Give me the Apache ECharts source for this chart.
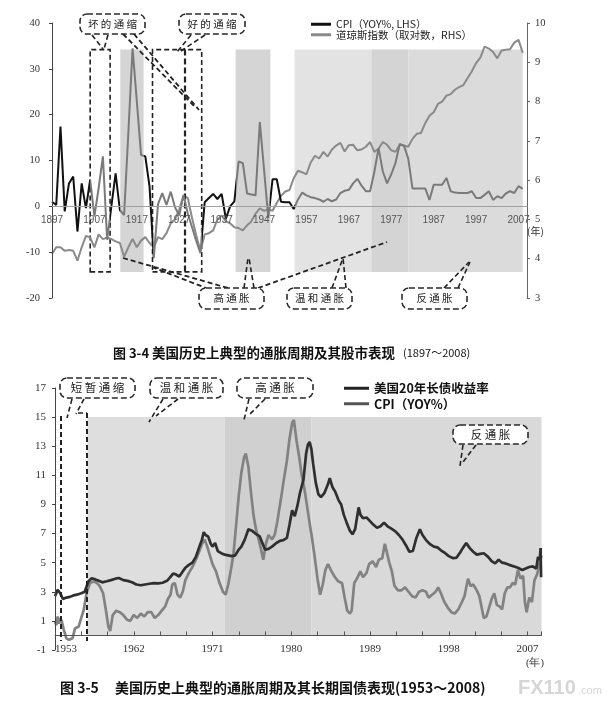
<!DOCTYPE html>
<html><head><meta charset="utf-8">
<script src="https://cdn.jsdelivr.net/npm/echarts@6/dist/echarts.min.js"></script>
<style>html,body{margin:0;padding:0;background:#fff}#c{width:614px;height:702px}</style>
</head><body><div id="c"></div>
<script>
// ---------- Figure 3-4 : annual data ----------
const cpiYears = [1897,1898,1899,1900,1901,1902,1903,1904,1905,1906,1907,1908,1909,1910,1911,1912,1913,1914,1915,1916,1917,1918,1919,1920,1921,1922,1923,1924,1925,1926,1927,1928,1929,1930,1931,1932,1933,1934,1935,1936,1937,1938,1939,1940,1941,1942,1943,1944,1945,1946,1947,1948,1949,1950,1951,1952,1953,1954,1955,1956,1957,1958,1959,1960,1961,1962,1963,1964,1965,1966,1967,1968,1969,1970,1971,1972,1973,1974,1975,1976,1977,1978,1979,1980,1981,1982,1983,1984,1985,1986,1987,1988,1989,1990,1991,1992,1993,1994,1995,1996,1997,1998,1999,2000,2001,2002,2003,2004,2005,2006,2007,2008];
const cpiValues = [1.0,0.3,17.4,-1.1,5.0,6.5,-5.5,5.0,-0.4,5.8,-2.2,4.0,10.9,-7.3,0.0,7.2,-0.8,-1.9,16.0,34.5,22.9,11.2,10.9,4.3,-11.3,0.5,2.9,0.3,3.2,-0.2,-2.0,2.5,-1.5,-4.5,-7.5,-10.2,0.9,1.8,2.7,1.6,2.7,-2.7,0.0,1.1,9.8,9.4,2.8,2.6,2.4,18.4,8.0,-2.5,5.9,5.9,1.0,0.9,0.9,-0.6,1.5,3.0,2.4,2.0,1.8,1.5,1.0,1.6,1.1,1.5,2.9,3.4,3.6,5.0,6.0,4.5,3.3,3.3,7.5,12.7,7.6,5.0,7.0,9.5,13.6,13.2,10.4,3.9,3.9,3.9,3.9,1.4,4.7,4.7,4.7,6.2,3.3,3.0,2.9,2.9,2.9,3.3,1.8,1.8,2.5,3.3,1.4,2.2,1.8,2.8,3.3,2.9,4.4,3.8];
const dowLogValues = [4.12,4.29,4.29,4.2,4.22,4.2,3.95,4.29,4.58,4.54,4.29,4.62,4.5,4.54,4.5,4.44,4.4,4.05,4.29,4.5,4.29,4.46,4.55,4.4,4.29,4.55,4.5,4.65,4.9,5.0,5.25,5.6,5.55,5.05,4.6,4.2,4.62,4.65,4.72,5.0,5.1,4.95,4.9,4.8,4.78,4.72,4.85,4.95,5.15,5.28,5.22,5.25,5.22,5.42,5.6,5.71,5.75,6.05,6.24,6.2,6.15,6.45,6.62,6.55,6.72,6.6,6.78,6.88,6.95,6.73,6.89,6.9,6.76,6.78,6.85,6.97,6.72,6.8,6.97,6.9,6.76,6.72,6.9,6.88,6.85,7.05,7.18,7.2,7.45,7.64,7.73,7.94,8.0,8.15,8.19,8.3,8.37,8.42,8.6,8.77,8.98,9.12,9.4,9.35,9.26,9.1,9.3,9.32,9.33,9.5,9.57,9.24];
const topTickYears = [1897,2009];
// periods (years) of the shaded bands and dashed boxes
const topShadeSpans = [[1913.1,1918.6],[1940.3,1948.5],[1954.2,1972.3],[1972.3,1981.0],[1981.0,2008.0]];
const topBoxSpans = [[1906.0,1910.7],[1920.7,1932.3]];
const topBoxDivider = 1928.4;
const topShadeRange = [-14.3,34.2];

// ---------- Figure 3-5 : monthly-ish data ----------
const bondTimes = [1953.0,1953.3,1953.6,1953.9,1954.3,1954.7,1955.1,1955.5,1956.0,1956.4,1956.8,1957.2,1957.6,1958.0,1958.4,1958.9,1959.4,1959.9,1960.3,1960.8,1961.3,1961.8,1962.3,1962.8,1963.3,1963.8,1964.3,1964.8,1965.3,1965.8,1966.1,1966.5,1966.8,1967.2,1967.6,1967.9,1968.3,1968.7,1969.1,1969.5,1969.8,1970.0,1970.2,1970.5,1970.8,1971.0,1971.3,1971.6,1972.0,1972.4,1972.8,1973.2,1973.6,1974.0,1974.3,1974.7,1975.1,1975.5,1975.9,1976.4,1976.8,1977.0,1977.4,1977.8,1978.3,1978.7,1979.1,1979.5,1979.8,1980.1,1980.4,1980.7,1981.0,1981.4,1981.7,1981.9,1982.1,1982.3,1982.5,1982.8,1983.1,1983.4,1983.8,1984.2,1984.4,1984.7,1985.0,1985.4,1985.7,1986.0,1986.3,1986.7,1987.0,1987.3,1987.7,1987.9,1988.2,1988.6,1989.0,1989.4,1989.8,1990.2,1990.6,1991.0,1991.4,1991.9,1992.3,1992.7,1993.1,1993.5,1993.9,1994.3,1994.7,1995.0,1995.4,1995.9,1996.3,1996.7,1997.1,1997.6,1998.0,1998.5,1998.9,1999.3,1999.6,2000.0,2000.4,2000.8,2001.2,2001.6,2002.0,2002.5,2002.9,2003.3,2003.7,2004.1,2004.5,2004.9,2005.4,2005.9,2006.4,2006.8,2007.2,2007.6,2008.0,2008.2,2008.4,2008.5,2008.55];
const bondValues = [2.7,3.13,2.9,2.5,2.6,2.65,2.75,2.8,2.9,3.0,3.7,3.93,3.85,3.75,3.65,3.72,3.8,3.9,3.95,3.8,3.75,3.65,3.5,3.45,3.5,3.55,3.6,3.58,3.62,3.75,3.95,4.25,4.2,4.05,4.4,4.65,4.85,5.0,5.4,6.1,6.6,7.1,6.9,6.8,6.3,6.1,6.35,5.8,5.65,5.55,5.5,5.45,5.5,5.9,6.1,6.6,7.3,7.2,7.0,6.8,6.2,5.9,5.95,6.1,6.35,6.5,6.55,6.7,7.6,8.6,8.2,8.9,9.8,10.7,12.5,13.1,13.3,12.8,11.8,10.5,9.7,9.5,9.8,10.4,10.8,10.2,9.9,9.3,9.0,8.3,7.8,7.2,6.95,7.3,8.8,8.3,8.05,8.1,7.85,7.6,7.4,7.5,7.75,7.5,7.35,7.15,6.9,6.6,6.2,5.75,5.8,6.7,7.3,6.9,6.55,6.25,6.1,6.05,5.85,5.65,5.45,5.3,5.35,5.7,6.0,6.35,6.0,5.75,5.55,5.6,5.65,5.4,5.1,4.95,5.2,5.0,4.95,4.85,4.75,4.65,4.5,4.6,4.7,4.75,4.6,5.4,5.2,6.0,4.0];
const cpiMonthTimes = [1953.0,1953.15,1953.3,1953.45,1953.6,1953.8,1954.0,1954.3,1954.6,1955.0,1955.3,1955.7,1956.0,1956.3,1956.6,1957.0,1957.4,1957.8,1958.1,1958.5,1958.8,1959.1,1959.3,1959.6,1960.0,1960.4,1960.8,1961.2,1961.6,1962.0,1962.4,1962.8,1963.2,1963.6,1964.0,1964.4,1964.8,1965.2,1965.6,1965.9,1966.2,1966.4,1966.7,1967.0,1967.3,1967.6,1967.9,1968.3,1968.7,1969.1,1969.5,1969.8,1970.1,1970.4,1970.7,1971.0,1971.4,1971.8,1972.2,1972.5,1972.8,1973.1,1973.4,1973.7,1974.0,1974.3,1974.6,1974.8,1975.1,1975.4,1975.7,1976.0,1976.4,1976.8,1977.1,1977.4,1977.8,1978.1,1978.4,1978.8,1979.1,1979.5,1979.8,1980.1,1980.3,1980.6,1980.9,1981.2,1981.5,1981.8,1982.1,1982.4,1982.7,1983.0,1983.3,1983.6,1983.9,1984.2,1984.6,1985.0,1985.4,1985.8,1986.1,1986.4,1986.7,1986.9,1987.2,1987.5,1987.9,1988.2,1988.6,1988.9,1989.3,1989.7,1990.0,1990.4,1990.7,1990.9,1991.2,1991.5,1991.8,1992.2,1992.6,1993.0,1993.4,1993.8,1994.2,1994.6,1995.0,1995.4,1995.7,1996.1,1996.5,1996.8,1997.1,1997.5,1997.9,1998.3,1998.7,1999.1,1999.5,1999.8,2000.2,2000.5,2000.8,2001.2,2001.5,2001.8,2002.0,2002.3,2002.6,2002.9,2003.2,2003.5,2003.8,2004.1,2004.4,2004.7,2005.0,2005.3,2005.6,2005.9,2006.2,2006.5,2006.7,2006.9,2007.2,2007.5,2007.8,2008.1,2008.4,2008.6];
const cpiMonthValues = [1.0,0.7,1.3,0.8,1.2,0.9,0.4,-0.2,-0.3,-0.2,0.5,0.6,1.2,1.8,2.9,3.6,3.7,3.6,3.4,2.9,1.8,0.6,0.3,1.4,1.7,1.6,1.4,1.1,1.0,1.4,1.2,1.5,1.3,1.6,1.6,1.2,1.4,1.7,2.0,2.5,2.8,3.5,3.6,2.8,2.6,3.0,3.8,4.3,4.7,5.2,5.8,6.3,6.6,6.1,5.5,4.9,4.4,3.6,3.0,2.8,3.5,4.5,5.6,7.6,9.6,11.2,12.2,12.5,11.6,9.8,8.2,7.2,6.3,5.2,6.3,6.9,6.6,6.9,7.8,9.3,10.5,12.0,13.5,14.6,14.8,13.4,12.3,11.0,10.1,8.9,7.7,6.6,5.3,3.9,2.8,3.5,4.5,4.9,4.4,4.0,3.7,3.6,2.6,1.7,1.5,1.7,3.6,3.9,4.4,4.0,4.3,4.9,5.1,4.7,5.2,5.3,6.3,6.2,5.0,4.4,3.4,3.1,3.1,3.3,3.0,2.7,2.6,3.0,3.1,3.0,2.6,2.8,3.0,3.3,2.9,2.3,1.9,1.6,1.5,1.8,2.3,2.7,3.9,3.4,3.5,3.1,2.7,1.8,1.2,1.3,1.9,2.5,2.9,2.1,2.0,1.8,2.9,3.3,3.3,3.6,3.5,4.5,3.9,4.1,2.3,1.6,2.6,2.3,3.8,4.2,5.0,5.5];
const botShadeSpans = [[1956.7,1972.4],[1972.4,1982.3],[1982.3,2008.6]];
const botShadeRange = [0,15];

const zip = (a,b) => a.map((v,i) => [v,b[i]]);
const SANS = '"Noto Sans CJK SC","Noto Sans",sans-serif';
const SERIF = '"Liberation Serif","DejaVu Serif",serif';

// annotation helpers (pixel space)
const G = [];
function bubble(x,y,w,h,txt,fs){
  G.push({type:'rect',shape:{x:x,y:y,width:w,height:h,r:7},style:{fill:'#fff',stroke:'#2a2a2a',lineWidth:1.6,lineDash:[6,3]},z:50});
  G.push({type:'text',x:x+w/2,y:y+h/2,style:{text:txt,font:fs+'px '+SANS,fill:'#222',align:'center',verticalAlign:'middle'},z:51});
}
function dl(x1,y1,x2,y2,w){
  G.push({type:'line',shape:{x1:x1,y1:y1,x2:x2,y2:y2},style:{stroke:'#222',lineWidth:w||1.6,lineDash:[5,3]},z:49});
}
function txt(x,y,t,font,fill,align){
  G.push({type:'text',x:x,y:y,style:{text:t,font:font,fill:fill||'#111',align:align||'left',verticalAlign:'middle'},z:52});
}
// top chart annotations
bubble(80,14,65,20,'坏 的 通 缩',10.5);
bubble(179,14,66,20,'好 的 通 缩',10.5);
bubble(199,288,65,21,'高 通 胀',10.5);
bubble(287,288,65,21,'温 和 通 胀',10.5);
bubble(402,288,65,21,'反 通 胀',10.5);
dl(92,35,103,49); dl(108,35,104,49);
dl(123,34,194,106,1.8); dl(134,34,199,110,1.8);
dl(191,35,177,52); dl(205,35,181,51);
dl(123,258,228,288,1.8); dl(152,267,206,288,1.8);
dl(244,288,248,258); dl(254,288,249,258);
dl(258,288,387,242,1.8);
dl(332,288,343,258); dl(346,288,343,258);
dl(444,288,469,262); dl(458,288,470,262);
txt(527,231,'(年)','10px '+SANS,'#333');
// bottom chart annotations
bubble(60,378,75,20,'短 暂 通 缩',11.5);
bubble(150,378,73,20,'温 和 通 胀',11.5);
bubble(237,378,76,20,'高 通 胀',11.5);
bubble(453,425,75,19,'反 通 胀',11.5);
dl(72,399,67,418); dl(84,399,76,414); dl(78,413,87,413);
dl(61,416,61,641,2); dl(87,413,87,641,2);
dl(163,399,149,422); dl(178,399,156,416);
dl(249,399,244,420); dl(265,399,250,414);
dl(463,445,460,466); dl(476,445,463,462);
txt(526,663,'(年)','10.5px '+SERIF,'#333');
// captions
txt(113,353,'图 3-4','bold 13px '+SANS,'#111');
txt(152,353,'美国历史上典型的通胀周期及其股市表现','bold 13.5px '+SANS,'#111');
txt(403,353,'(1897～2008)','11px '+SANS,'#111');
txt(60,688,'图 3-5','bold 14px '+SANS,'#111');
txt(115,688,'美国历史上典型的通胀周期及其长期国债表现(1953～2008)','bold 14px '+SANS,'#111');
txt(518,688,'FX110','bold 20px "Liberation Sans",sans-serif','#d6d6d6');
txt(578,691,'.com','11px "Liberation Sans",sans-serif','#d6d6d6');

const topShadeColors = ['#d5d5d5','#d5d5d5','#e3e3e3','#d4d4d4','#dbdbdb'];
const botShadeColors = ['#dedede','#d0d0d0','#d9d9d9'];
const grayPieces = topBoxSpans.concat(topShadeSpans.slice(0,2)).concat([[topShadeSpans[2][0],2010]]);

// grid geometry: top chart y -20..40, bottom chart y -1..17; x axes sit at value 0
const TOP_H = 275, BOT_H = 262;
const topZeroOffset = -TOP_H * 20 / 60;
const botZeroOffset = -BOT_H * 1 / 18;

const option = {
  backgroundColor:'#fff',
  animation:false,
  grid:[{left:52,top:23,width:475,height:TOP_H},{left:55,top:388,width:486.5,height:BOT_H}],
  legend:[
    {orient:'vertical',left:306,top:14,itemWidth:20,itemHeight:3,itemGap:0,icon:'rect',
     textStyle:{fontSize:10.5,color:'#222',fontFamily:SANS},
     data:[{name:'CPI（YOY%, LHS）',itemStyle:{color:'#111'}},{name:'道琼斯指数（取对数，RHS）',itemStyle:{color:'#8a8a8a'}}]},
    {orient:'vertical',left:339,top:377,itemWidth:25,itemHeight:3,itemGap:3,icon:'rect',
     textStyle:{fontSize:12.5,color:'#111',fontFamily:SANS,fontWeight:'bold'},
     data:[{name:'美国20年长债收益率',itemStyle:{color:'#222'}},{name:'CPI（YOY%）',itemStyle:{color:'#555'}}]}
  ],
  visualMap:[{type:'piecewise',show:false,seriesIndex:1,dimension:0,
    pieces:grayPieces.map(s=>({gte:s[0],lte:s[1],color:'#7a7a7a'})),outOfRange:{color:'#111'}}],
  xAxis:[
    {gridIndex:0,type:'value',min:topTickYears[0],max:topTickYears[1],interval:10,offset:topZeroOffset,z:10,
     axisLine:{onZero:false,lineStyle:{color:'#a0a0a0',width:1}},
     axisTick:{show:false},splitLine:{show:false},
     axisLabel:{margin:9,fontSize:10,color:'#555',fontFamily:'"Liberation Sans",sans-serif',
       formatter:v=> v>2008 ? '' : String(v)}},
    {gridIndex:1,type:'value',min:1953,max:2008.6,interval:3,offset:botZeroOffset,z:10,
     axisLine:{onZero:false,lineStyle:{color:'#555'}},
     axisTick:{show:true,inside:true,length:4,lineStyle:{color:'#555'}},splitLine:{show:false},
     axisLabel:{margin:8,fontSize:11,color:'#333',fontFamily:SERIF,alignMinLabel:'left',
       formatter:v=> (Math.abs((v-1953)%9)<0.01 && v<2008) ? String(v) : ''}}
  ],
  yAxis:[
    {gridIndex:0,type:'value',min:-20,max:40,interval:10,position:'left',z:10,
     axisLine:{show:true,onZero:false,lineStyle:{color:'#444'}},axisTick:{show:true,length:3,lineStyle:{color:'#444'}},
     splitLine:{show:false},axisLabel:{margin:12,fontSize:10.5,color:'#333',fontFamily:SERIF}},
    {gridIndex:0,type:'value',min:3,max:10,interval:1,position:'right',z:10,
     axisLine:{show:true,onZero:false,lineStyle:{color:'#666'}},axisTick:{show:true,length:3,lineStyle:{color:'#666'}},
     splitLine:{show:false},axisLabel:{margin:8,fontSize:10.5,color:'#333',fontFamily:SERIF}},
    {gridIndex:1,type:'value',min:-1,max:17,interval:2,position:'left',z:10,
     axisLine:{show:true,onZero:false,lineStyle:{color:'#444'}},axisTick:{show:true,length:3,lineStyle:{color:'#444'}},
     splitLine:{show:false},axisLabel:{margin:9,fontSize:11,color:'#333',fontFamily:SERIF}}
  ],
  series:[
    {type:'line',xAxisIndex:0,yAxisIndex:0,data:[],z:1,silent:true,
     markArea:{silent:true,data:topShadeSpans.map((s,i)=>[{xAxis:s[0],yAxis:topShadeRange[0],itemStyle:{color:topShadeColors[i]}},{xAxis:s[1],yAxis:topShadeRange[1]}])}},
    {name:'CPI（YOY%, LHS）',type:'line',xAxisIndex:0,yAxisIndex:0,data:zip(cpiYears,cpiValues),
     symbol:'none',lineStyle:{width:2},z:5},
    {name:'道琼斯指数（取对数，RHS）',type:'line',xAxisIndex:0,yAxisIndex:1,data:zip(cpiYears,dowLogValues),
     symbol:'none',lineStyle:{width:2,color:'#8a8a8a'},itemStyle:{color:'#8a8a8a'},z:4},
    {type:'line',xAxisIndex:0,yAxisIndex:0,data:[],z:8,silent:true,
     markArea:{silent:true,data:topBoxSpans.map(s=>[{xAxis:s[0],yAxis:topShadeRange[0],itemStyle:{color:'rgba(0,0,0,0)',borderColor:'#222',borderWidth:1.6,borderType:[5,3]}},{xAxis:s[1],yAxis:topShadeRange[1]}])},
     markLine:{silent:true,symbol:['none','none'],label:{show:false},lineStyle:{type:[6,3],color:'#222',width:2.2},
       data:[[{coord:[topBoxDivider,topShadeRange[1]]},{coord:[topBoxDivider,topShadeRange[0]]}]]}},
    {type:'line',xAxisIndex:1,yAxisIndex:2,data:[],z:1,silent:true,
     markArea:{silent:true,data:botShadeSpans.map((s,i)=>[{xAxis:s[0],yAxis:botShadeRange[0],itemStyle:{color:botShadeColors[i]}},{xAxis:s[1],yAxis:botShadeRange[1]}])}},
    {name:'CPI（YOY%）',type:'line',xAxisIndex:1,yAxisIndex:2,data:zip(cpiMonthTimes,cpiMonthValues),
     symbol:'none',lineStyle:{width:2.7,color:'#828282'},itemStyle:{color:'#828282'},z:4},
    {name:'美国20年长债收益率',type:'line',xAxisIndex:1,yAxisIndex:2,data:zip(bondTimes,bondValues),
     symbol:'none',lineStyle:{width:2.7,color:'#2f2f2f'},itemStyle:{color:'#2f2f2f'},z:5}
  ],
  graphic:G
};
const chart = echarts.init(document.getElementById('c'));
chart.setOption(option);
</script></body></html>
